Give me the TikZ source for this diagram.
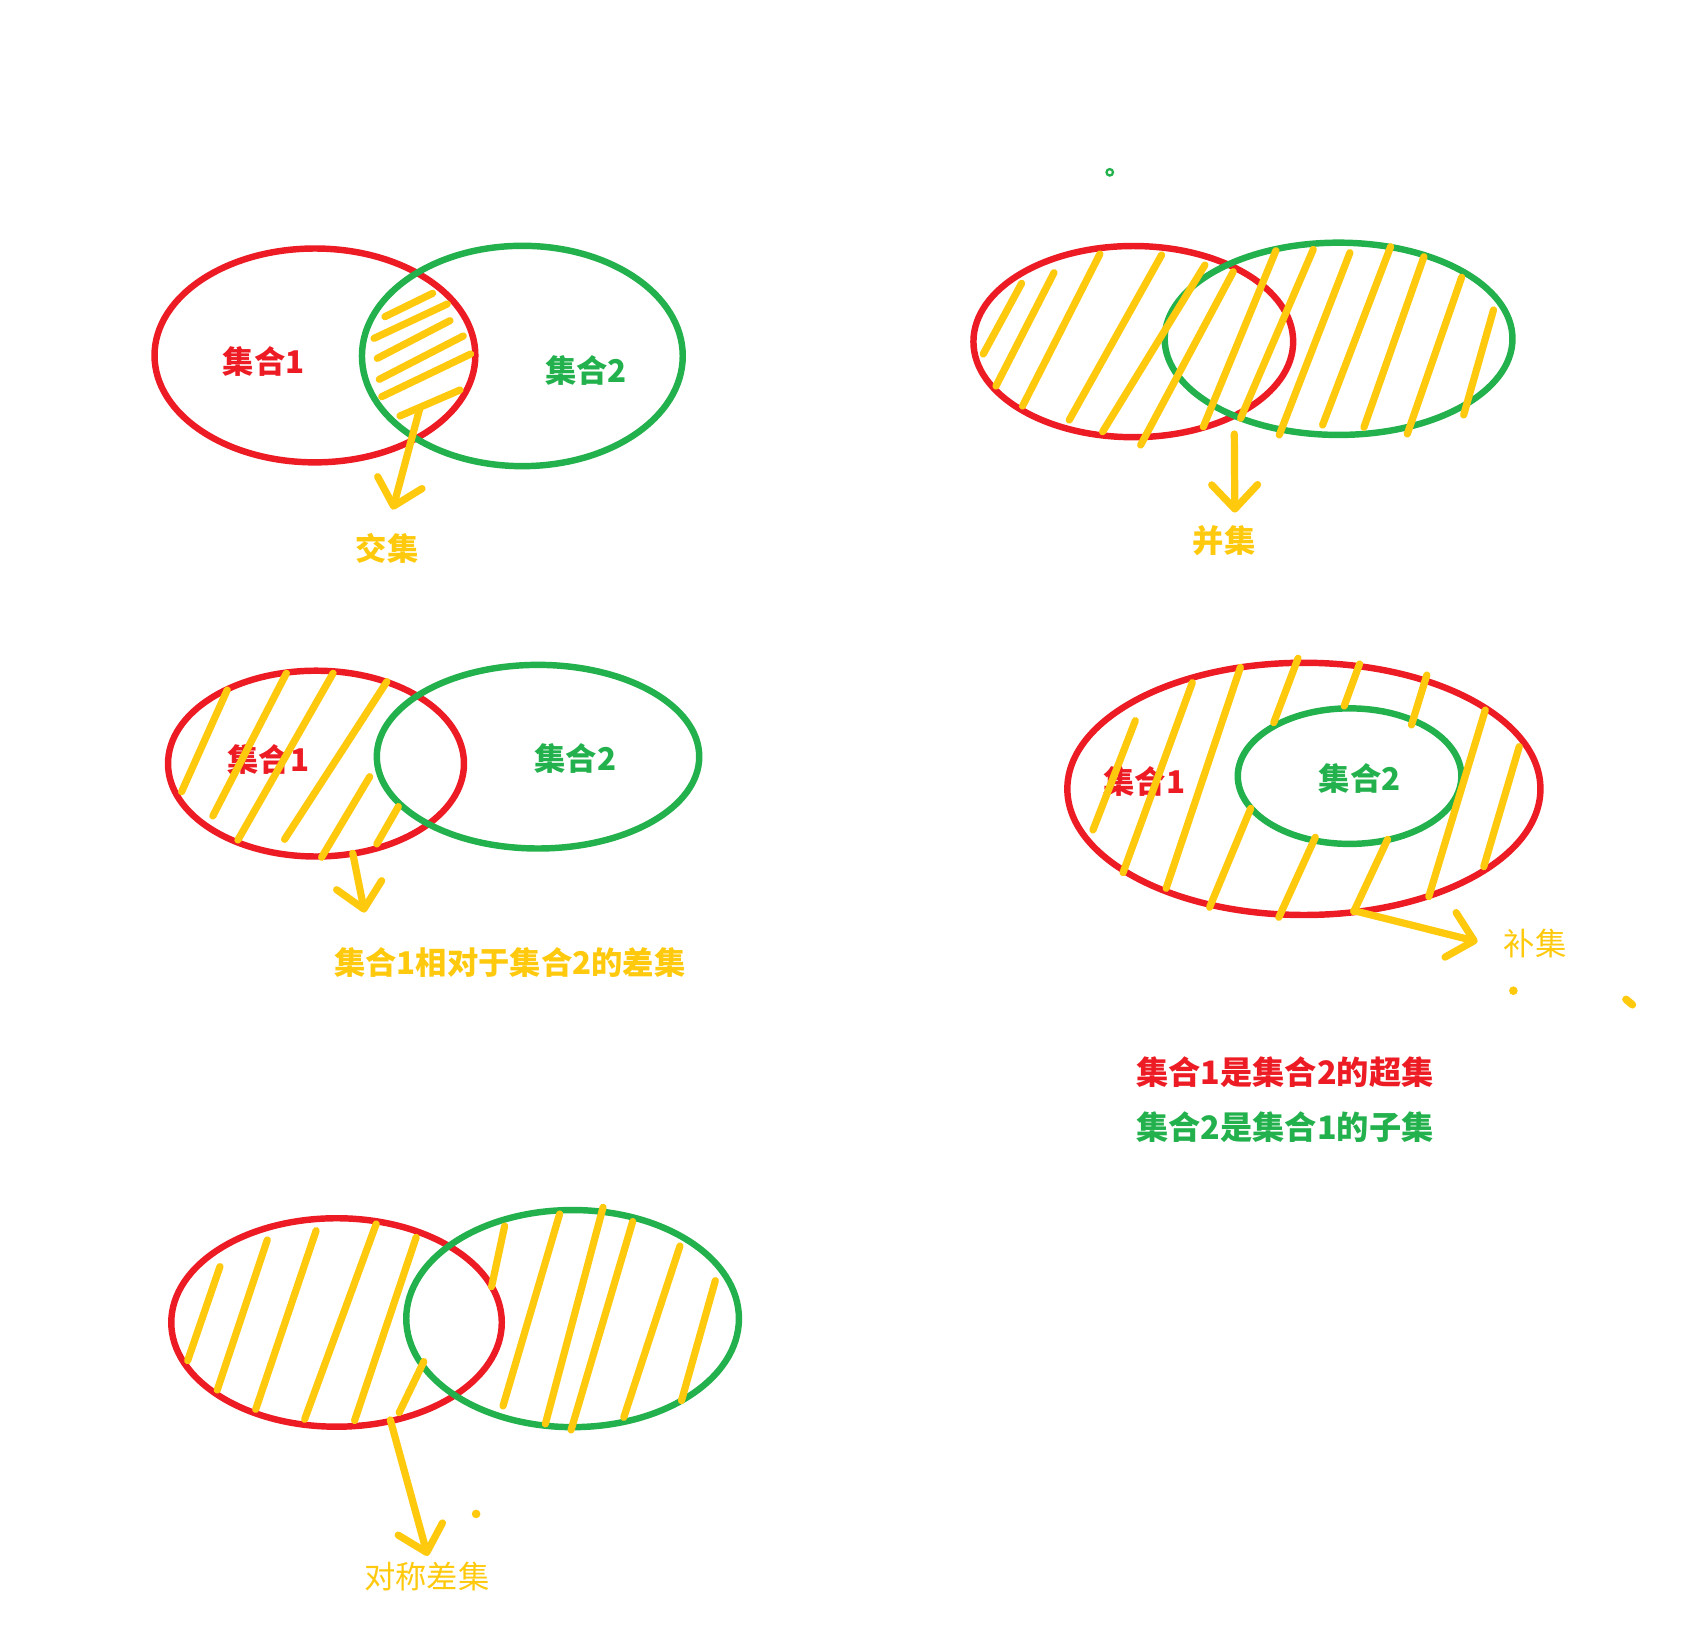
\documentclass[tikz,border=0pt]{standalone}
\usepackage{fontspec}
\newfontfamily\cjk{Noto Sans CJK SC}
\usepackage{xcolor}
\usetikzlibrary{shapes.geometric,arrows.meta}
\definecolor{paintred}{HTML}{ED1C24}
\definecolor{paintgreen}{HTML}{22B14C}
\definecolor{paintgold}{HTML}{FFC90E}

\begin{document}
\begin{tikzpicture}[
    x=0.02cm, y=-0.02cm,
    ring/.style={ellipse,draw=#1,line width=3.4pt,inner sep=0pt},
    hatch/.style={draw=paintgold,line width=3.8pt,line cap=round},
    pointer/.style={-{Straight Barb[length=0.45cm,width=0.85cm,round]},draw=paintgold,line width=3.8pt,line cap=round},
    setname/.style={font=\cjk\bfseries\fontsize{16.5}{18}\selectfont,text=#1,inner sep=0pt},
    tag/.style={font=\cjk\bfseries\fontsize{16.5}{18}\selectfont,text=paintgold,inner sep=0pt},
    thintag/.style={font=\cjk\fontsize{16.5}{18}\selectfont,text=paintgold,inner sep=0pt}
]
\useasboundingbox (0,0) rectangle (1568,1507);

\node[ring=paintred,minimum width=5.94cm,minimum height=3.96cm] (jjA) at (291.5,329) {};
\node[ring=paintgreen,minimum width=5.94cm,minimum height=4.08cm] (jjB) at (483.5,329.5) {};
\node[setname=paintred] (jjAname) at (244,335) {集合1};
\node[setname=paintgreen] (jjBname) at (542.5,343) {集合2};
\draw[hatch] (356.3,293.1) -- (400.5,271.5)
    (346.2,313.2) -- (414,281.4)
    (349.2,331.7) -- (416.5,296.8)
    (351.1,351.1) -- (428.8,311)
    (353.3,367.2) -- (435.6,327.7)
    (370.2,385.0) -- (425.8,361.0);
\coordinate (jjfrom) at (388.3,379);
\coordinate (jjto) at (363.4,471.7);
\draw[pointer] (jjfrom) -- (jjto);
\node[tag] (jjtag) at (358.5,508) {交集};

\draw[paintgreen,line width=1.2pt] (1027.2,159.5) circle (0.06cm);
\node[ring=paintred,minimum width=5.92cm,minimum height=3.54cm] (bjA) at (1049,316.2) {};
\node[ring=paintgreen,minimum width=6.44cm,minimum height=3.56cm] (bjB) at (1239,313.6) {};
\draw[hatch] (910.1,327.7) -- (945.6,262.3)
    (921.9,357.3) -- (975.6,252.4)
    (946.5,375.8) -- (1018.1,235.1)
    (989.7,388.8) -- (1075.2,236.0)
    (1020.6,399.6) -- (1115.3,245.3)
    (1055.8,411.9) -- (1141.5,251.5)
    (1113.8,395.0) -- (1181.0,232.0)
    (1148.3,387.2) -- (1215.6,230.8)
    (1184.1,402.6) -- (1249.5,233.9)
    (1224.2,393.4) -- (1287.2,228.3)
    (1262.5,395.5) -- (1318.0,237.6)
    (1302.6,401.7) -- (1352.9,256.7)
    (1354.8,384.1) -- (1382.4,286.9);
\coordinate (bjfrom) at (1142.5,401.7);
\coordinate (bjto) at (1143,474.5);
\draw[pointer] (bjfrom) -- (bjto);
\node[tag] (bjtag) at (1133,500) {并集};

\node[ring=paintred,minimum width=5.48cm,minimum height=3.44cm] (cjA) at (292.5,706.8) {};
\node[ring=paintgreen,minimum width=5.97cm,minimum height=3.40cm] (cjB) at (498,700.4) {};
\node[setname=paintred] (cjAname) at (248.5,703.4) {集合1};
\node[setname=paintgreen] (cjBname) at (532.5,701.9) {集合2};
\draw[hatch] (168.1,732.8) -- (210.3,638.7)
    (197,755.3) -- (265.1,623.2)
    (220.2,777.5) -- (308.3,623.2)
    (263.4,776.9) -- (358.1,630.9)
    (297.7,793.5) -- (342.2,718.9)
    (348.8,781.2) -- (368.7,746.6);
\coordinate (cjfrom) at (326.5,789.8);
\coordinate (cjto) at (337.5,844.7);
\draw[pointer] (cjfrom) -- (cjto);
\node[tag] (cjtag) at (472,891) {集合1相对于集合2的差集};

\node[ring=paintred,minimum width=8.76cm,minimum height=4.67cm] (buA) at (1206.9,730.2) {};
\node[ring=paintgreen,minimum width=4.14cm,minimum height=2.51cm] (buB) at (1249.2,718.4) {};
\node[setname=paintred] (buAname) at (1059.1,723.5) {集合1};
\node[setname=paintgreen] (buBname) at (1258.4,720.4) {集合2};
\draw[hatch] (1011.7,768.2) -- (1050.9,667.0)
    (1039.5,807.7) -- (1103.6,631.9)
    (1079.4,822.2) -- (1148.1,617.7)
    (1119.6,839.8) -- (1157.7,748.2)
    (1179.0,668.9) -- (1201.5,609.3)
    (1183.7,849.1) -- (1217.5,775.0)
    (1244.2,653.5) -- (1258.4,614.6)
    (1253.1,843.8) -- (1284.4,776.9)
    (1306.5,671.0) -- (1320.7,624.8)
    (1322.5,829.9) -- (1374.8,657.2)
    (1373.4,802.2) -- (1406.2,691.1);
\coordinate (bufrom) at (1253.1,842.9);
\coordinate (buto) at (1367.7,871.6);
\draw[pointer] (bufrom) -- (buto);
\node[thintag] (butag) at (1421.1,873.8) {补集};
\fill[paintgold] (1400.8,917) circle (0.08cm);
\draw[hatch,line width=4pt] (1505,925) -- (1511,930);
\node[setname=paintred,font=\cjk\bfseries\fontsize{17}{19}\selectfont] (superline) at (1189.4,992.7) {集合1是集合2的超集};
\node[setname=paintgreen,font=\cjk\bfseries\fontsize{17}{19}\selectfont] (subline) at (1189.4,1043) {集合2是集合1的子集};

\node[ring=paintred,minimum width=6.12cm,minimum height=3.86cm] (dcA) at (311.5,1224.1) {};
\node[ring=paintgreen,minimum width=6.16cm,minimum height=4.02cm] (dcB) at (530,1220.5) {};
\draw[hatch] (173.7,1259.4) -- (203.6,1172.4)
    (201.1,1286.6) -- (247.4,1147.7)
    (236.7,1304.5) -- (292.6,1139.1)
    (282.0,1313.7) -- (348.2,1132.9)
    (328.2,1314.9) -- (385.2,1145.3)
    (369.5,1307.5) -- (392.3,1260.3)
    (455.0,1190.9) -- (467.1,1134.8)
    (465.6,1301.4) -- (518.0,1123.7)
    (504.8,1318.0) -- (558.2,1117.5)
    (528.6,1323.6) -- (585.6,1130.7)
    (577.4,1311.9) -- (629.4,1153.3)
    (630.8,1296.4) -- (662.1,1185.4);
\coordinate (dcfrom) at (361.3,1314.3);
\coordinate (dcto) at (395.9,1440.2);
\draw[pointer] (dcfrom) -- (dcto);
\node[thintag] (dctag) at (395.2,1459.3) {对称差集};
\fill[paintgold] (440.7,1401.3) circle (0.08cm);

\end{tikzpicture}
\end{document}
